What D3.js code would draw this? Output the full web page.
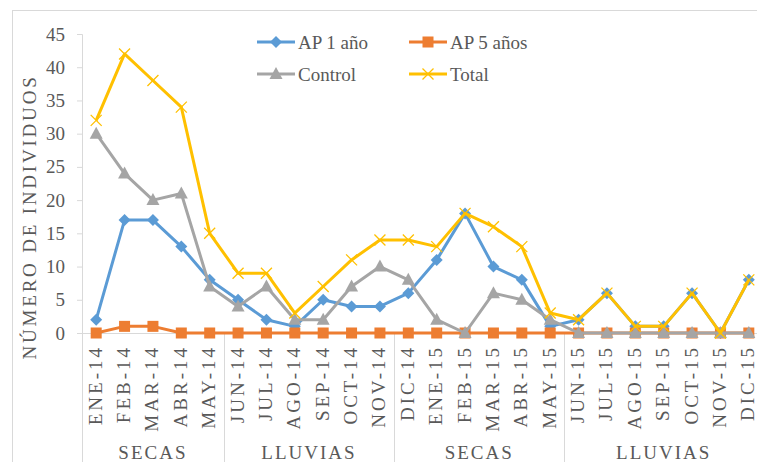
<!DOCTYPE html>
<html><head><meta charset="utf-8">
<script src="https://cdn.jsdelivr.net/npm/d3@7/dist/d3.min.js"></script>
<style>body{margin:0;background:#fff}svg{display:block}svg text{fill:#595959}</style>
</head><body>
<script>
const months = ["ENE-14","FEB-14","MAR-14","ABR-14","MAY-14","JUN-14","JUL-14","AGO-14","SEP-14","OCT-14","NOV-14","DIC-14","ENE-15","FEB-15","MAR-15","ABR-15","MAY-15","JUN-15","JUL-15","AGO-15","SEP-15","OCT-15","NOV-15","DIC-15"];
const ap1 = [2,17,17,13,8,5,2,1,5,4,4,6,11,18,10,8,1,2,6,1,1,6,0,8];
const ap5 = [0,1,1,0,0,0,0,0,0,0,0,0,0,0,0,0,0,0,0,0,0,0,0,0];
const control = [30,24,20,21,7,4,7,2,2,7,10,8,2,0,6,5,2,0,0,0,0,0,0,0];
const total = [32,42,38,34,15,9,9,3,7,11,14,14,13,18,16,13,3,2,6,1,1,6,0,8];
const seasons = ["SECAS","LLUVIAS","SECAS","LLUVIAS"];
const seasonStart = [0,5,11,17];
const seasonEnd = [5,11,17,24];
const yTicks = [0,5,10,15,20,25,30,35,40,45];
const seriesNames = ["AP 1 año","AP 5 años","Control","Total"];
const colors = ["#5B9BD5","#ED7D31","#A5A5A5","#FFC000"];
const markers = ["diamond","square","triangle","x"];

const FONT="Liberation Serif, Liberation Sans, Arial, sans-serif";
const W=757,H=462;
const svg=d3.select("body").append("svg").attr("width",W).attr("height",H).attr("font-family",FONT);
svg.append("rect").attr("width",W).attr("height",H).attr("fill","#fff");
svg.append("rect").attr("x",12.5).attr("y",10.5).attr("width",780).attr("height",480).attr("fill","none").attr("stroke","#d9d9d9");

const L=82,R=763,T=34,B=333;
const x=d3.scalePoint().domain(months).range([L,R]).padding(0.5);
const step=x.step();
const y=d3.scaleLinear().domain([0,45]).range([B,T]);

// y axis
const ya=svg.append("g").attr("transform",`translate(${L},0)`).call(d3.axisLeft(y).tickValues(yTicks).tickSize(5).tickPadding(12));
ya.attr("font-family",FONT).attr("font-size",19);
ya.select(".domain").attr("stroke","#d9d9d9");
ya.selectAll(".tick line").attr("stroke","#d9d9d9");
ya.selectAll(".tick text").attr("fill","#595959");

// x axis line and group separators
svg.append("line").attr("x1",L-5).attr("x2",R).attr("y1",B+0.5).attr("y2",B+0.5).attr("stroke","#d9d9d9");
const bounds=[0,5,11,17,24];
bounds.forEach(b=>{
  const xx=Math.round(L+b*step)+0.5;
  svg.append("line").attr("x1",xx).attr("x2",xx).attr("y1",B).attr("y2",H).attr("stroke","#d9d9d9");
});
// month labels
svg.append("g").selectAll("text").data(months).join("text")
  .attr("transform",d=>`translate(${x(d)+5.5},345) rotate(-90)`)
  .attr("text-anchor","end")
  .attr("font-size",19).attr("letter-spacing",3)
  .text(d=>d);
// season labels
svg.append("g").selectAll("text").data(seasons).join("text")
  .attr("x",(d,i)=>L+(seasonStart[i]+seasonEnd[i])/2*step)
  .attr("y",459).attr("text-anchor","middle")
  .attr("font-size",19).attr("letter-spacing",2)
  .text(d=>d);

// y title
svg.append("text").attr("transform","translate(36,217) rotate(-90)").attr("text-anchor","middle")
  .attr("font-size",19).attr("letter-spacing",2.8).text("NÚMERO DE INDIVIDUOS");

function drawMarker(g,type,color){
  if(type==="diamond") g.append("path").attr("d","M0,-6L6,0L0,6L-6,0Z").attr("fill",color);
  else if(type==="square") g.append("rect").attr("x",-5.5).attr("y",-5.5).attr("width",11).attr("height",11).attr("fill",color);
  else if(type==="triangle") g.append("path").attr("d","M0,-7L6.5,5L-6.5,5Z").attr("fill",color);
  else g.append("path").attr("d","M-5.5,-5.5L5.5,5.5M5.5,-5.5L-5.5,5.5").attr("stroke",color).attr("stroke-width",1.3).attr("fill","none");
}

const data=[ap1,ap5,control,total];
const line=d3.line().x((d,i)=>x(months[i])).y(d=>y(d));
data.forEach((vals,s)=>{
  const g=svg.append("g");
  g.append("path").datum(vals).attr("d",line).attr("fill","none").attr("stroke",colors[s]).attr("stroke-width",3).attr("stroke-linejoin","round");
  vals.forEach((v,i)=>{
    const m=g.append("g").attr("transform",`translate(${x(months[i])},${y(v)})`);
    drawMarker(m,markers[s],colors[s]);
  });
});

// legend
const legPos=[[257,42],[409,42],[257,74],[409,74]];
seriesNames.forEach((n,s)=>{
  const [lx,ly]=legPos[s];
  const g=svg.append("g");
  g.append("line").attr("x1",lx).attr("x2",lx+38).attr("y1",ly).attr("y2",ly).attr("stroke",colors[s]).attr("stroke-width",3);
  const m=g.append("g").attr("transform",`translate(${lx+19},${ly})`);
  drawMarker(m,markers[s],colors[s]);
  g.append("text").attr("x",lx+41).attr("y",ly+7).attr("font-size",19).text(n);
});
</script>
</body></html>
